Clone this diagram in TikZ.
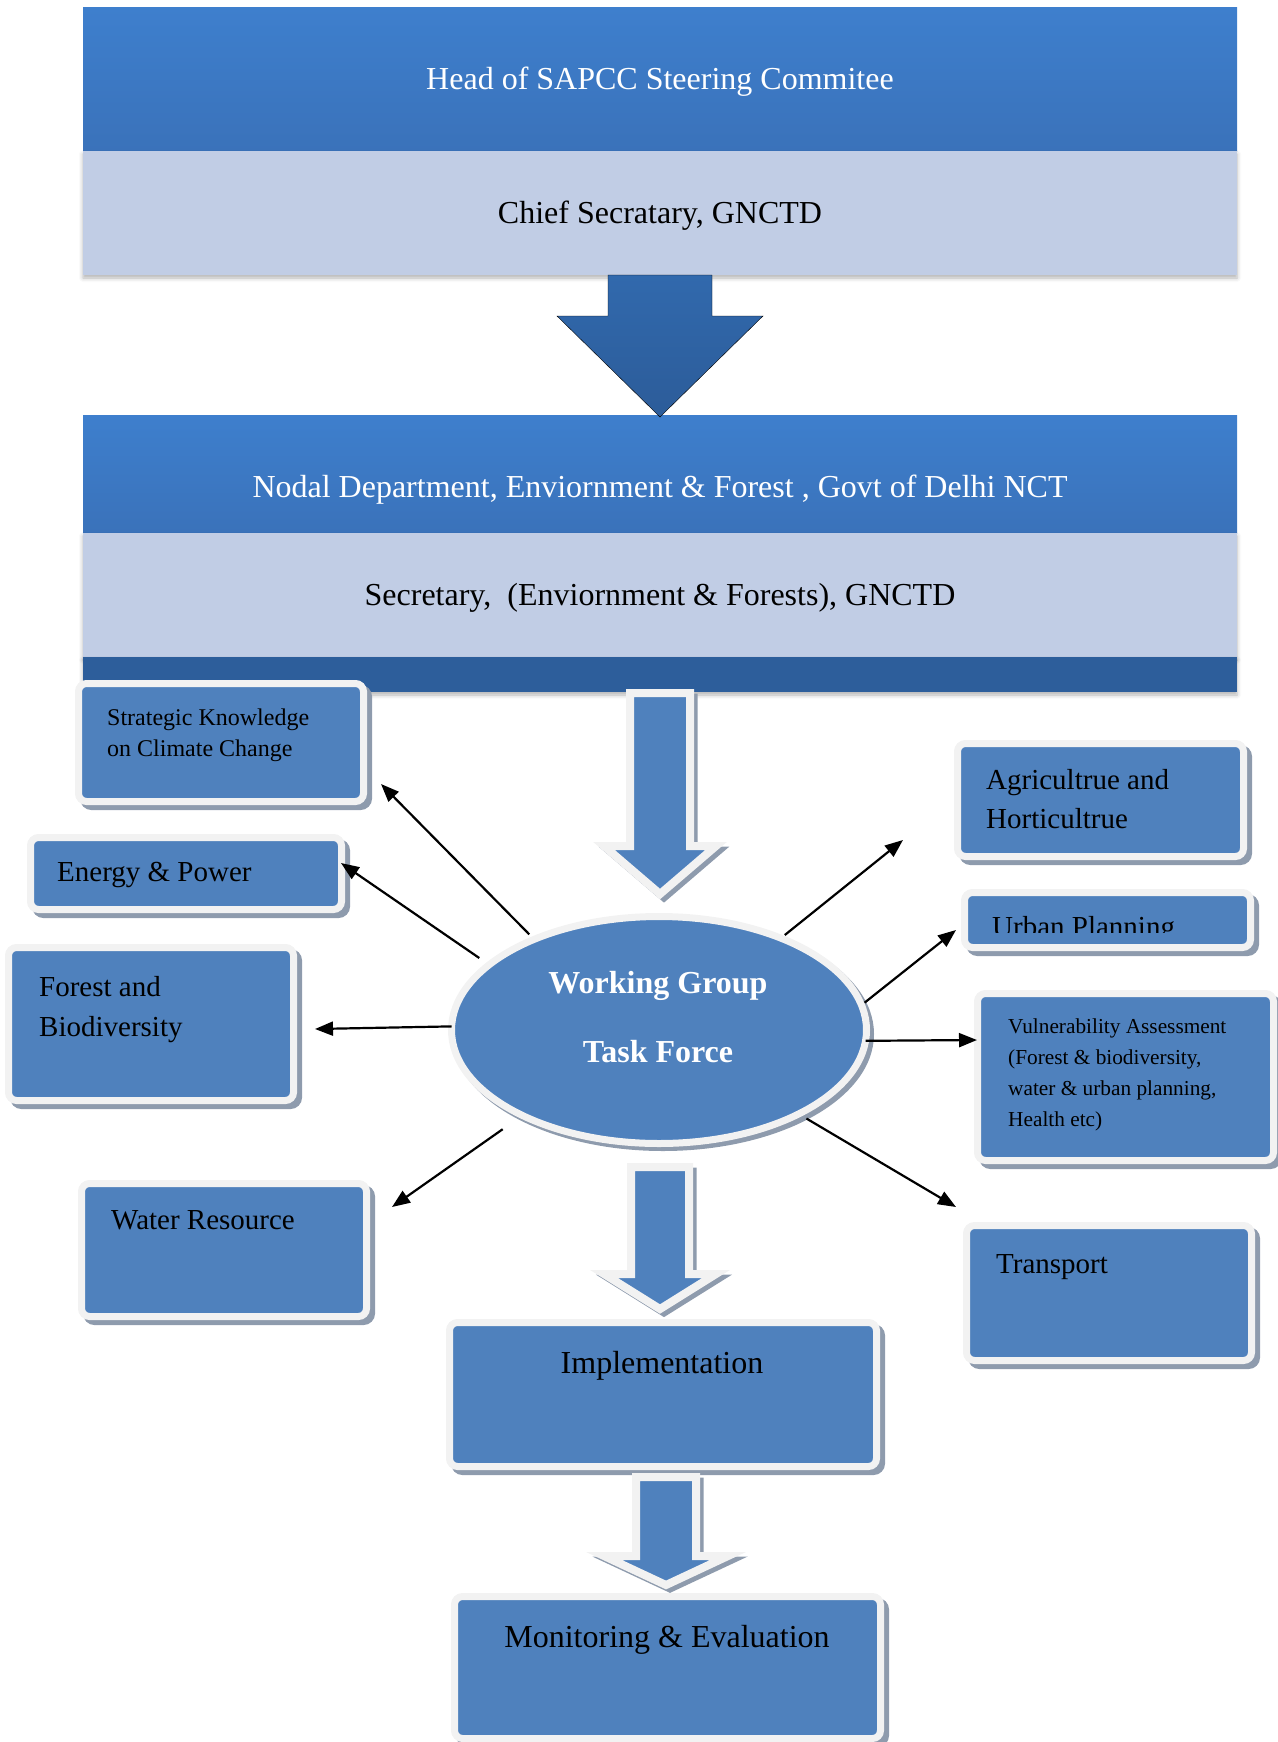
\documentclass[tikz,border=0pt]{standalone}
\usepackage{fontspec}
\setmainfont{Liberation Serif}
\usetikzlibrary{arrows.meta,shapes,positioning,shadows,shadows.blur,calc}

\definecolor{bandtop}{HTML}{3E7FCD}
\definecolor{bandbot}{HTML}{3A72BA}
\definecolor{bandlight}{HTML}{C1CDE5}
\definecolor{bandstrip}{HTML}{2D5E9B}
\definecolor{arrowtop}{HTML}{3169AD}
\definecolor{arrowbot}{HTML}{2C5C99}
\definecolor{boxblue}{HTML}{4F81BD}
\definecolor{boxrim}{HTML}{F2F2F2}
\definecolor{boxshade}{HTML}{8E9BAD}

\begin{document}
\begin{tikzpicture}[x=1pt,y=-1pt,
  band/.style={rectangle,inner sep=0pt,outer sep=0pt,minimum width=1154pt,
    text height=28pt,text depth=7pt,font=\fontsize{32}{38}\selectfont},
  darkband/.style={band,top color=bandtop,bottom color=bandbot,text=white},
  lightband/.style={band,fill=bandlight,
    blur shadow={shadow xshift=0pt,shadow yshift=-3pt,shadow blur radius=4pt,shadow opacity=30}},
  stripband/.style={band,fill=bandstrip,
    blur shadow={shadow xshift=0pt,shadow yshift=-3pt,shadow blur radius=4pt,shadow opacity=30}},
  rimshadow/.style={preaction={draw=boxshade,fill=boxshade,line width=7pt,
    transform canvas={shift={(#1,-#1)}}}},
  rimshadow/.default=5pt,
  topicbox/.style={rectangle,rounded corners=8pt,draw=boxrim,line width=7pt,
    fill=boxblue,inner sep=0pt,outer sep=0pt,rimshadow},
  hollowarrow/.style={draw=boxrim,line width=8pt,fill=boxblue,rimshadow=4pt},
  bigdown/.style={top color=arrowtop,bottom color=arrowbot},
  wgellipse/.style={ellipse,draw=boxrim,line width=7pt,fill=boxblue,inner sep=0pt,
    outer sep=0pt,minimum width=415pt,minimum height=227pt,rimshadow=4pt},
  bigtext/.style={inner sep=0pt,font=\fontsize{32}{38}\selectfont},
  wgtext/.style={inner sep=0pt,text=white,font=\bfseries\fontsize{32}{38}\selectfont},
  midtext/.style={inner sep=0pt,align=left,font=\fontsize{29}{39}\selectfont},
  smalltext/.style={inner sep=0pt,align=left,font=\fontsize{24}{31}\selectfont},
  tinytext/.style={inner sep=0pt,align=left,font=\fontsize{21.3}{31}\selectfont},
  feeder/.style={draw=black,line width=2.2pt,-{Triangle[length=18pt,width=14pt]}}]

  \useasboundingbox (0,0) rectangle (1277,1742);

  % Steering committee
  \node[darkband,minimum height=143pt] (head) at (660,79.5) {Head of SAPCC Steering Commitee};
  \node[lightband,minimum height=124pt,below=0pt of head] (chief) {Chief Secratary, GNCTD};

  % Nodal department
  \node[darkband,minimum height=118pt,text height=53pt] (nodal) at (660,474)
    {Nodal Department, Enviornment \& Forest , Govt of Delhi NCT};
  \node[lightband,minimum height=124pt,below=0pt of nodal] (secy)
    {Secretary,\ \ (Enviornment \& Forests), GNCTD};
  \node[stripband,minimum height=25pt,below=0pt of secy] (strip) {};

  % Big arrow between the two blocks
  \draw[bigdown] ([xshift=-52pt]chief.south) -- ++(104,0) -- ++(0,41) -- ++(51,0)
    -- ++(-103,101) -- ++(-103,-101) -- ++(51,0) -- cycle;

  % Arrow down to the working group
  \draw[hollowarrow] ([xshift=-30pt,yshift=-1pt]strip.south) -- ++(60,0) -- ++(0,153)
    -- ++(26,0) -- ++(-56,48) -- ++(-56,-48) -- ++(26,0) -- cycle;

  % Topic boxes
  \node[topicbox,minimum width=285pt,minimum height=118pt] (sk) at (221,742.5) {};
  \node[topicbox,minimum width=311pt,minimum height=72pt] (ep) at (186,873.5) {};
  \node[topicbox,minimum width=285pt,minimum height=153pt] (fb) at (151,1024) {};
  \node[topicbox,minimum width=285pt,minimum height=133pt] (wr) at (224,1250) {};
  \node[topicbox,minimum width=286pt,minimum height=113pt] (ah) at (1100.5,800) {};
  \node[topicbox,minimum width=286pt,minimum height=55pt] (up) at (1107.5,920) {};
  \node[topicbox,minimum width=296pt,minimum height=167pt] (va) at (1125.5,1077) {};
  \node[topicbox,minimum width=285pt,minimum height=135pt] (tr) at (1109,1293) {};

  % multi-line texts sit on the baseline of their last line
  \node[smalltext,anchor=base west] (sk-t) at (107,756) {Strategic Knowledge\\on Climate Change};
  \node[midtext,anchor=base west] (ep-t) at (57,881) {Energy \& Power};
  \node[midtext,anchor=base west,font=\fontsize{29}{40}\selectfont] (fb-t) at (39,1036) {Forest and\\Biodiversity};
  \node[midtext,anchor=base west] (wr-t) at (111,1229) {Water Resource};
  \node[midtext,anchor=base west] (ah-t) at (986,828) {Agricultrue and\\Horticultrue};
  \begin{scope}
    \clip (960,890) rectangle (1252,932);
    \node[midtext,anchor=base west] (up-t) at (992,936) {Urban Planning};
  \end{scope}
  \node[tinytext,anchor=base west] (va-t) at (1008,1126)
    {Vulnerability Assessment\\(Forest \& biodiversity,\\water \& urban planning,\\Health etc)};
  \node[midtext,anchor=base west] (tr-t) at (996,1273) {Transport};

  % Working group
  \node[wgellipse] (wg) at (659,1030) {};
  \node[wgtext,anchor=base] (wg-t1) at (658,993) {Working Group};
  \node[wgtext,anchor=base] (wg-t2) at (658,1062) {Task Force};

  % Thin arrows out of the working group
  \coordinate (sk-in) at (381,784);
  \coordinate (ep-in) at (341,863);
  \coordinate (fb-in) at (315,1029);
  \coordinate (wr-in) at (392,1207);
  \coordinate (ah-in) at (903,840);
  \coordinate (up-in) at (956,930);
  \coordinate (va-in) at (977,1040);
  \coordinate (tr-in) at (956,1207);
  \foreach \ang/\tip/\gap in {144/sk-in/7pt,159/ep-in/12pt,179/fb-in/0pt,212/wr-in/24pt,
      37/ah-in/5pt,7/up-in/4pt,357/va-in/0pt,329/tr-in/9pt}
    \draw[feeder,shorten <=\gap] (wg.\ang) -- (\tip);

  % Implementation and monitoring
  \node[topicbox,minimum width=427pt,minimum height=144pt] (impl) at (663,1394.5) {};
  \node[bigtext,anchor=base] (impl-t) at (662,1373) {Implementation};
  \draw[hollowarrow] ([xshift=-28pt,yshift=-23.5pt]wg.south) -- ++(58,0) -- ++(0,107)
    -- ++(27,0) -- ++(-56,35) -- ++(-56,-35) -- ++(27,0) -- cycle;

  \node[topicbox,minimum width=426pt,minimum height=142pt] (me) at (667.5,1667.5) {};
  \node[bigtext,anchor=base] (me-t) at (667,1647) {Monitoring \& Evaluation};
  \draw[hollowarrow] ([xshift=-27pt,yshift=-10.5pt]impl.south) -- ++(60,0) -- ++(0,79)
    -- ++(32,0) -- ++(-62,29) -- ++(-62,-29) -- ++(32,0) -- cycle;
\end{tikzpicture}
\end{document}
